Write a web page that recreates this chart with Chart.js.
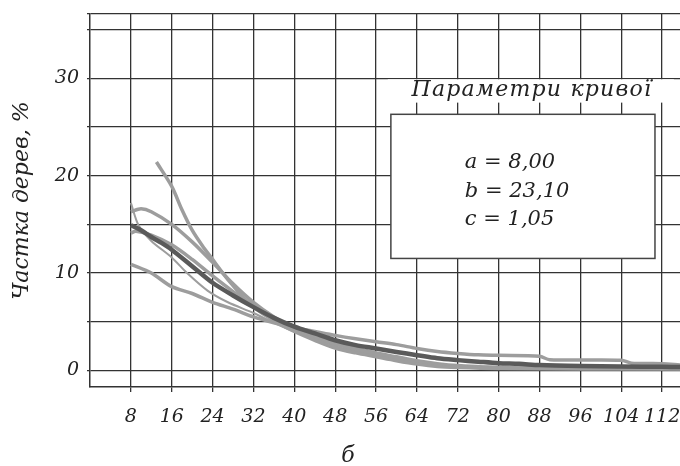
<!DOCTYPE html>
<html>
<head>
<meta charset="utf-8">
<script src="https://cdn.jsdelivr.net/npm/chart.js@4.4.1/dist/chart.umd.min.js"></script>
<style>
  html, body { margin: 0; padding: 0; background: #fff; }
</style>
</head>
<body>
<canvas id="curve-chart" width="680" height="466"></canvas>
<script>
'use strict';
// ******* DATA ********
let xTicks = [8, 16, 24, 32, 40, 48, 56, 64, 72, 80, 88, 96, 104, 112];
let yTicks = [0, 5, 10, 15, 20, 25, 30, 35];
let yLabels = [0, 10, 20, 30];
let xMin = 0;
let xMax = 115.5;
let yMin = -1.7;
let yMax = 36.6;

// fitted curve (dark)
let fitX = [8, 10, 12, 14, 16, 20, 24, 28, 32, 36, 40, 44, 48, 52, 56, 60, 64, 68, 72, 76, 80, 84, 88, 96, 104, 112, 115.5];
let fitY = [14.9, 14.4, 13.7, 13.1, 12.4, 10.7, 9.0, 7.7, 6.5, 5.4, 4.5, 3.8, 3.1, 2.6, 2.26, 1.9, 1.57, 1.25, 1.06, 0.9, 0.75, 0.68, 0.55, 0.45, 0.4, 0.37, 0.35];

// observed curves (grey)
let steepX = [13, 16, 18, 20, 22, 24, 26, 28, 30, 32, 36, 40, 44, 48, 52, 56, 60, 64, 68, 72, 80, 96, 115.5];
let steepY = [21.4, 18.9, 16.5, 14.4, 12.8, 11.4, 10.0, 8.7, 7.5, 6.5, 5.1, 4.0, 3.1, 2.3, 1.8, 1.4, 1.0, 0.65, 0.4, 0.3, 0.2, 0.15, 0.15];

let humpX = [8, 10, 12, 16, 20, 24, 28, 32, 36, 40, 44, 48, 52, 56, 60, 64, 68, 72, 80, 96, 115.5];
let humpY = [16.3, 16.6, 16.3, 15.0, 13.2, 11.1, 8.9, 7.0, 5.5, 4.3, 3.5, 2.7, 2.2, 1.7, 1.3, 0.9, 0.6, 0.4, 0.3, 0.25, 0.2];

let thinX = [8, 9.5, 12, 16, 19, 23, 27, 32, 36, 40, 44, 48, 52, 56, 60, 64, 68, 72, 80, 115.5];
let thinY = [17.2, 14.9, 13.3, 11.6, 10.0, 8.2, 7.0, 5.9, 4.9, 4.0, 3.3, 2.5, 2.0, 1.6, 1.2, 0.8, 0.5, 0.35, 0.25, 0.2];

let midX = [8, 9, 12, 16, 20, 24, 28, 32, 36, 40, 44, 48, 52, 56, 60, 64, 68, 72, 80, 115.5];
let midY = [14.1, 14.3, 13.9, 12.9, 11.4, 9.7, 8.1, 6.7, 5.4, 4.4, 3.6, 2.9, 2.3, 1.8, 1.4, 1.0, 0.7, 0.5, 0.3, 0.25];

let flatX = [8, 12, 16, 20, 24, 28, 32, 36, 40, 44, 48, 52, 56, 60, 64, 68, 72, 76, 80, 88, 90, 104, 106, 112, 115.5];
let flatY = [10.9, 10.0, 8.6, 7.9, 7.0, 6.3, 5.5, 4.9, 4.4, 4.0, 3.6, 3.25, 2.94, 2.65, 2.26, 1.95, 1.75, 1.6, 1.55, 1.45, 1.1, 1.05, 0.75, 0.7, 0.55];

let yTitle = 'Частка дерев, %';
let xTitle = 'б';
let paramTitle = 'Параметри кривої';
let paramLines = ['a = 8,00', 'b = 23,10', 'c = 1,05'];


// ******* HELPERS ********
let serif = 'DejaVu Serif';
let gridColor = '#333333';
let lightGrey = '#9d9d9d';
let darkGrey = '#5a5a5a';

function toPoints(xs, ys) {
  return xs.map((x, i) => ({ x: x, y: ys[i] }));
}

function series(xs, ys, color, width, order) {
  return {
    data: toPoints(xs, ys),
    borderColor: color,
    borderWidth: width,
    pointRadius: 0,
    tension: 0.3,
    fill: false,
    order: order
  };
}

// parameter box and bottom caption
let paramPlugin = {
  id: 'paramPlugin',
  afterDraw(chart) {
    let ctx = chart.ctx;
    let xs = chart.scales.x;
    let ys = chart.scales.y;
    ctx.save();

    // title band over the grid
    let bandL = xs.getPixelForValue(58.3);
    let bandR = xs.getPixelForValue(114.3);
    let bandT = ys.getPixelForValue(30.0) + 1;
    let bandB = ys.getPixelForValue(27.5);
    ctx.fillStyle = '#fff';
    ctx.fillRect(bandL, bandT, bandR - bandL, bandB - bandT);
    ctx.fillStyle = '#222';
    ctx.font = 'italic 22px "' + serif + '"';
    ctx.letterSpacing = '1.2px';
    ctx.textAlign = 'center';
    ctx.textBaseline = 'alphabetic';
    ctx.fillText(paramTitle, (bandL + bandR) / 2 + 1, bandT + 17);
    ctx.letterSpacing = '0px';

    // box
    let boxL = xs.getPixelForValue(58.9);
    let boxR = xs.getPixelForValue(110.6);
    let boxT = ys.getPixelForValue(26.3);
    let boxB = ys.getPixelForValue(11.5);
    ctx.fillStyle = '#fff';
    ctx.fillRect(boxL, boxT, boxR - boxL, boxB - boxT);
    ctx.strokeStyle = '#444';
    ctx.lineWidth = 1.5;
    ctx.strokeRect(boxL, boxT, boxR - boxL, boxB - boxT);

    ctx.fillStyle = '#222';
    ctx.font = 'italic 21px "' + serif + '"';
    ctx.textAlign = 'left';
    for (let i = 0; i < paramLines.length; i++) {
      ctx.fillText(paramLines[i], boxL + 74, boxT + 54 + i * 28.5);
    }

    // caption under the axis
    ctx.font = 'italic 22px "' + serif + '"';
    ctx.textAlign = 'center';
    ctx.fillText(xTitle, chart.width / 2 + 8, chart.height - 4);
    ctx.restore();
  }
};


// ******* CHART ********
let canvasElem = document.getElementById('curve-chart');

let chartObj = {
  type: 'line',
  data: {
    datasets: [
      series(fitX, fitY, darkGrey, 4.5, 0),
      series(steepX, steepY, lightGrey, 3.5, 1),
      series(humpX, humpY, lightGrey, 3.5, 1),
      series(thinX, thinY, lightGrey, 2, 1),
      series(midX, midY, lightGrey, 3.5, 1),
      series(flatX, flatY, lightGrey, 3.5, 1)
    ]
  },
  options: {
    responsive: false,
    animation: false,
    layout: { padding: { top: 14, right: 0, left: 0, bottom: 0 } },
    plugins: {
      legend: { display: false },
      tooltip: { enabled: false }
    },
    scales: {
      x: {
        type: 'linear',
        min: xMin,
        max: xMax,
        afterBuildTicks: (s) => { s.ticks = xTicks.map(v => ({ value: v })); },
        afterFit: (s) => {
          s.height = 79;
          s.paddingLeft = 0;
          s.paddingRight = 0;
        },
        grid: { color: gridColor, lineWidth: 1.3, tickLength: 5, drawTicks: true },
        border: { color: gridColor, width: 1.5 },
        ticks: {
          autoSkip: false,
          maxRotation: 0,
          padding: 14,
          color: '#222',
          font: { family: serif, style: 'italic', size: 19 }
        }
      },
      y: {
        type: 'linear',
        min: yMin,
        max: yMax,
        afterBuildTicks: (s) => { s.ticks = yTicks.concat([yMax]).map(v => ({ value: v })); },
        afterFit: (s) => {
          s.width = 90;
          s.paddingTop = 0;
          s.paddingBottom = 0;
        },
        grid: { color: gridColor, lineWidth: 1.3, tickLength: 3, drawTicks: true },
        border: { color: gridColor, width: 1.5 },
        ticks: {
          padding: 8,
          color: '#222',
          font: { family: serif, style: 'italic', size: 19 },
          callback: (v) => (yLabels.includes(v) ? String(v) : '')
        },
        title: {
          display: true,
          text: yTitle,
          color: '#222',
          padding: 9,
          font: { family: serif, style: 'italic', size: 22 }
        }
      }
    }
  },
  plugins: [paramPlugin]
};

new Chart(canvasElem, chartObj);
</script>
</body>
</html>
